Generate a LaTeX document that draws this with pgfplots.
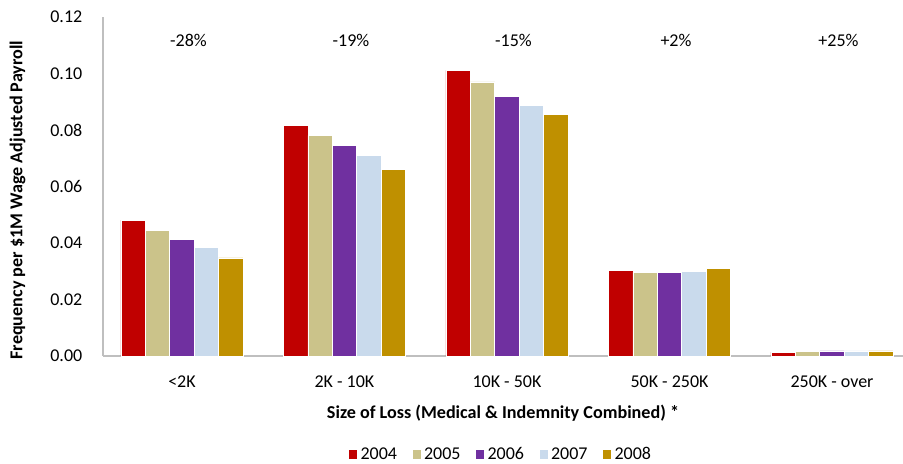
\documentclass[border=0pt]{standalone}
\usepackage{pgfplots}
\pgfplotsset{compat=1.18}
\usepackage{fontspec}
\setmainfont{Carlito}
\definecolor{c04}{HTML}{C00000}
\definecolor{c05}{HTML}{CBC38A}
\definecolor{c06}{HTML}{7030A0}
\definecolor{c07}{HTML}{C9DAEC}
\definecolor{c08}{HTML}{BF9000}
\begin{document}
\begin{tikzpicture}
\begin{axis}[
  scale only axis, width=600pt, height=254.25pt,
  xmin=-0.486, xmax=4.437, ymin=0, ymax=0.12,
  ybar=0pt, bar width=18.3pt,
  axis x line=bottom, axis y line=left,
  axis line style={draw=black!25, -, line width=1.2pt},
  major tick length=0pt,
  xtick={0,1,2,3,4},
  xticklabels={{<2K},{2K - 10K},{10K - 50K},{50K - 250K},{250K - over}},
  ytick={0,0.02,0.04,0.06,0.08,0.1,0.12},
  yticklabel style={/pgf/number format/.cd, fixed, fixed zerofill, precision=2, /tikz/.cd, xshift=-12pt},
  /pgf/number format/assume math mode=true,
  xticklabel style={yshift=-11pt},
  tick label style={font=\fontsize{13.5}{15}\selectfont, text=black},
  xlabel={\bfseries Size of Loss (Medical \& Indemnity Combined) *},
  xlabel style={at={(axis description cs:0.5,-0.17)}, anchor=center, font=\fontsize{13.6}{15}\selectfont},
  ylabel={\bfseries Frequency per \$1M Wage Adjusted Payroll},
  ylabel style={at={(axis description cs:-0.1067,0.46)}, anchor=center, font=\fontsize{13.6}{15}\selectfont},
  clip=false,
  legend columns=5,
  legend style={at={(axis description cs:0.4975,-0.29)}, anchor=center, draw=none,
    font=\fontsize{13.5}{15}\selectfont, /tikz/every even column/.append style={column sep=9pt}},
  legend image code/.code={\fill[#1] (0pt,-3.8pt) rectangle (6.75pt,3.8pt);},
]
\addplot[fill=c04, draw=white, line width=0.5pt] coordinates {(0,0.0481) (1,0.0817) (2,0.1011) (3,0.0304) (4,0.0014)};
\addplot[fill=c05, draw=white, line width=0.5pt] coordinates {(0,0.0445) (1,0.0781) (2,0.0970) (3,0.0297) (4,0.0017)};
\addplot[fill=c06, draw=white, line width=0.5pt] coordinates {(0,0.0414) (1,0.0746) (2,0.0918) (3,0.0295) (4,0.0018)};
\addplot[fill=c07, draw=white, line width=0.5pt] coordinates {(0,0.0383) (1,0.0709) (2,0.0888) (3,0.0300) (4,0.0018)};
\addplot[fill=c08, draw=white, line width=0.5pt] coordinates {(0,0.0347) (1,0.0661) (2,0.0854) (3,0.0310) (4,0.0018)};
\legend{2004,2005,2006,2007,2008}
\node[font=\fontsize{13.5}{15}\selectfont] at (axis cs:0.04,0.1118) {-28\%};
\node[font=\fontsize{13.5}{15}\selectfont] at (axis cs:1.04,0.1118) {-19\%};
\node[font=\fontsize{13.5}{15}\selectfont] at (axis cs:2.04,0.1118) {-15\%};
\node[font=\fontsize{13.5}{15}\selectfont] at (axis cs:3.04,0.1118) {+2\%};
\node[font=\fontsize{13.5}{15}\selectfont] at (axis cs:4.04,0.1118) {+25\%};
\end{axis}
\pgfresetboundingbox
\path ([shift={(-77.25pt,-81pt)}]current axis.south west) rectangle ([shift={(0pt,12.75pt)}]current axis.north east);
\end{tikzpicture}
\end{document}
